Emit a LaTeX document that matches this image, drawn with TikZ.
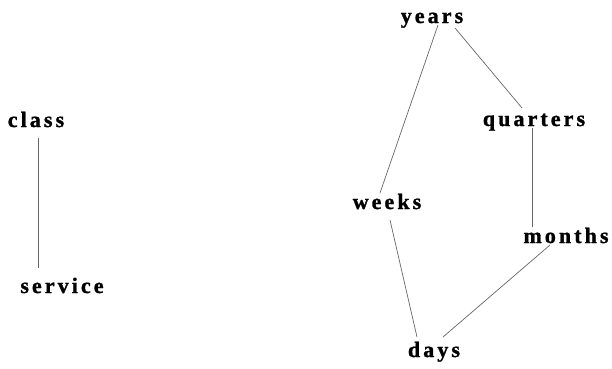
\documentclass[tikz,border=0pt]{standalone}
\usepackage{fontspec}
\setmainfont{Liberation Serif}
\newfontfamily\lblfont[LetterSpace=14,BoldFeatures={FakeBold=1.2}]{Liberation Serif}
\usetikzlibrary{calc}
\begin{document}
\begin{tikzpicture}[x=1pt,y=-1pt,
  lbl/.style={anchor=base,inner sep=0pt,font=\lblfont\bfseries\fontsize{22}{24}\selectfont},
  edge/.style={draw=black!60,line width=0.7pt}]
\useasboundingbox (0,0) rectangle (612,368);
\node[lbl] (class) at (36,127) {class};
\node[lbl] (service) at (62,293) {service};
\node[lbl] (years) at (432,23) {years};
\node[lbl] (quarters) at (534,126) {quarters};
\node[lbl] (weeks) at (387,209) {weeks};
\node[lbl] (months) at (566,243) {months};
\node[lbl] (days) at (434,357) {days};
\draw[edge] ($(class.base)+(2,11)$) -- ($(service.base)+(-24,-25)$);
\draw[edge] ($(years.base)+(6,2)$) -- ($(weeks.base)+(-7,-16)$);
\draw[edge] ($(years.base)+(23,5)$) -- ($(quarters.base)+(-12,-18)$);
\draw[edge] ($(quarters.base)+(-2,2)$) -- ($(months.base)+(-34,-16)$);
\draw[edge] ($(weeks.base)+(3,11)$) -- ($(days.base)+(-17,-20)$);
\draw[edge] ($(months.base)+(-16,2)$) -- ($(days.base)+(9,-20)$);
\end{tikzpicture}
\end{document}
